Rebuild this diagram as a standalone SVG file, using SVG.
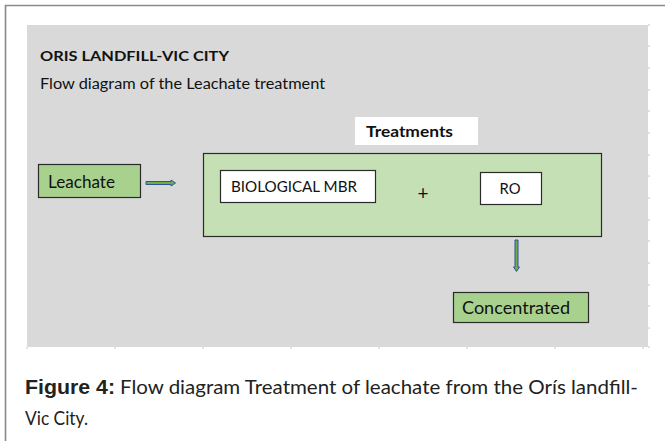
<svg xmlns="http://www.w3.org/2000/svg" width="665" height="441" viewBox="0 0 665 441">
<style>
.t{font-family:Lato,"Open Sans","Liberation Sans",sans-serif;fill:#111;}
.box{stroke:#2b2b2b;stroke-width:1.2;}
.tick{stroke:#c8c8c8;stroke-width:1;}
.arr{fill:#70ad47;stroke:#2f5597;stroke-width:1;}
.cap{font-family:Lato,"Open Sans","Liberation Sans",sans-serif;fill:#222;font-size:19px;}
</style>
<rect width="665" height="441" fill="#fff"/>
<path d="M5.5 441V5.5H665" fill="none" stroke="#8a8a8a" stroke-width="1.6"/>
<rect x="27" y="25" width="621" height="322" fill="#d9d9d9"/>
<g class="tick">
<path d="M648 25h2M648 46h2M648 68h2M648 90h2M648 111h2M648 133h2M648 155h2M648 176h2M648 198h2M648 220h2M648 241h2M648 263h2M648 285h2M648 306h2M648 328h2M648 347h2"/>
<path d="M27 347v2M115 347v2M203 347v2M291 347v2M379 347v2M467 347v2M555 347v2M643 347v2"/>
</g>
<text class="t" x="40" y="61" font-size="14" font-weight="bold" textLength="189" lengthAdjust="spacingAndGlyphs">ORIS LANDFILL-VIC CITY</text>
<text class="t" x="40" y="89" font-size="15.5" textLength="285" lengthAdjust="spacingAndGlyphs">Flow diagram of the  Leachate treatment</text>
<g id="treatments">
<rect x="355" y="117" width="123" height="28" fill="#fff"/>
<text class="t" x="366" y="137" font-size="15.5" font-weight="bold" textLength="87" lengthAdjust="spacingAndGlyphs">Treatments</text>
</g>
<g id="treatment-box">
<rect class="box" x="203.5" y="153.5" width="398" height="83" fill="#c5e0b4"/>
</g>
<g id="leachate">
<rect class="box" x="38.5" y="164.5" width="102" height="33" fill="#a9d18e"/>
<text class="t" x="48" y="188" font-size="17" textLength="67" lengthAdjust="spacingAndGlyphs">Leachate</text>
</g>
<g id="mbr">
<rect class="box" x="220.5" y="170.5" width="155" height="32" fill="#fff"/>
<text class="t" x="231" y="192" font-size="16" textLength="126" lengthAdjust="spacingAndGlyphs">BIOLOGICAL MBR</text>
</g>
<text class="t" x="423" y="200" font-size="19" text-anchor="middle">+</text>
<g id="ro">
<rect class="box" x="480.5" y="172.5" width="61" height="32" fill="#fff"/>
<text class="t" x="510" y="194" font-size="16" text-anchor="middle" textLength="21" lengthAdjust="spacingAndGlyphs">RO</text>
</g>
<g id="concentrated">
<rect class="box" x="453.5" y="292.5" width="135" height="30" fill="#a9d18e"/>
<text class="t" x="462" y="314" font-size="17" textLength="108" lengthAdjust="spacingAndGlyphs">Concentrated</text>
</g>
<g id="connectors">
<path class="arr" d="M146 181.5h25v-1.5l4.5 3-4.5 3v-1.5h-25z"/>
<path class="arr" d="M515 240v27h-1.5l3 4.5 3-4.5h-1.5v-27z"/>
</g>
<text x="25" y="394" font-size="20" fill="#222" font-family="Liberation Sans,Arial,sans-serif" font-weight="bold" textLength="90" lengthAdjust="spacingAndGlyphs">Figure 4:</text>
<text class="cap" x="120" y="394" textLength="518" lengthAdjust="spacingAndGlyphs">Flow diagram Treatment of leachate from the Orís landfill-</text>
<text class="cap" x="25" y="425" textLength="63" lengthAdjust="spacingAndGlyphs">Vic City.</text>
</svg>
